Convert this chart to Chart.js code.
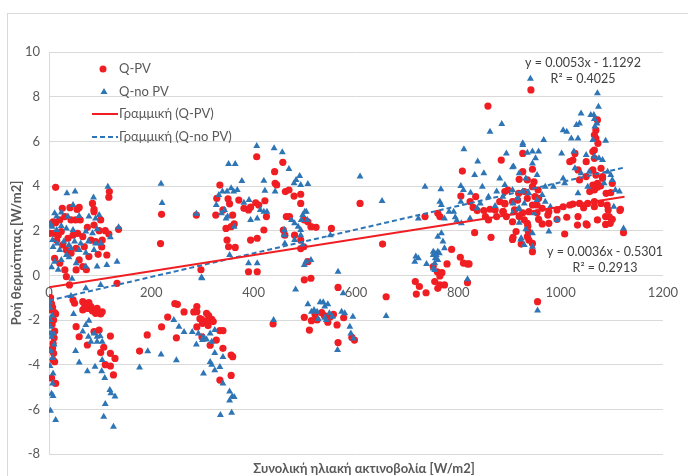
<!DOCTYPE html>
<html>
<head>
<meta charset="utf-8">
<script src="https://cdn.jsdelivr.net/npm/chart.js@4.4.1/dist/chart.umd.min.js"></script>
<style>
  html, body { margin: 0; padding: 0; background: #fff; }
  #wrap { position: relative; width: 688px; height: 476px; overflow: hidden; }
  #frame { position: absolute; left: 7px; top: 13px; width: 700px; height: 500px;
           border-left: 1px solid #d9d9d9; border-top: 1px solid #d9d9d9; }
  canvas { position: absolute; left: 0; top: 0; }
</style>
</head>
<body>
<div id="wrap">
  <div id="frame"></div>
  <canvas id="chart" width="688" height="476"></canvas>
</div>
<script>
// axis ticks
const xTicks = [0, 200, 400, 600, 800, 1000, 1200];
const yTicks = [-8, -6, -4, -2, 0, 2, 4, 6, 8, 10];

// Q-PV points [radiation, heat flux]
const qpv = [
  [13,3.94],[26,3.0],[41,3.03],[59,3.04],[85,3.22],[88,2.85],[117,3.5],[118,3.75],
  [8,2.4],[13,2.36],[21,2.48],[31,2.63],[43,2.48],[52,2.48],[61,2.48],[75,2.15],[88,2.25],[101,2.48],[110,2.0],[136,2.06],
  [2,1.88],[10,1.88],[18,1.8],[24,1.96],[37,1.66],[47,1.8],[56,1.88],[66,1.73],[82,1.58],[91,1.51],[104,1.58],[113,0.91],
  [27,1.36],[34,1.13],[43,0.99],[53,1.21],[69,1.28],[59,0.69],[78,0.84],
  [31,0.24],[53,0.24],[66,0.39],[34,-0.06],[40,-0.43],[133,-0.36],[47,-1.1],[11,0.76],[21,0.54],
  [5,2.3],[15,1.57],[96,0.94],[73,0.25],[103,1.27],[98,2.0],[117,1.85],[88,2.95],[55,2.95],
  [2,-1.13],[5,-1.28],[7,-1.43],[4,-1.55],[11,-1.67],[13,-1.73],[9,-2.0],[11,-2.5],[6,-2.2],[8,-3.05],
  [7,-3.27],[9,-3.49],[8,-3.79],[11,-3.87],[5,-4.6],[13,-4.84],[3,-1.0],[10,-2.8],
  [50,-1.25],[53,-2.3],[59,-2.75],[75,-3.12],[66,-1.18],[72,-1.25],[78,-1.22],[69,-1.48],[77,-1.48],[82,-1.4],
  [66,-1.55],[94,-1.48],[91,-1.7],[101,-1.73],[104,-1.63],[88,-2.52],[98,-2.45],[120,-2.72],[107,-3.22],[101,-3.46],
  [120,-3.49],[129,-3.72],[110,-4.0],[120,-4.06],[126,-4.46],[70,-1.3],[85,-1.6],[177,-3.39],[192,-2.67],
  [220,-2.31],[232,-1.87],[246,-1.27],[251,-1.3],[249,-2.8],[264,-1.64],[283,-1.64],[289,-1.63],[298,-1.97],[308,-1.7],
  [318,-1.97],[321,-2.07],[300,-2.15],[295,-1.94],[289,-1.4],[334,-2.48],[340,-2.48],[289,-2.31],[299,-2.76],[327,-2.9],
  [340,-3.27],[356,-3.57],[359,-3.64],[356,-4.48],[334,-4.69],[315,-2.0],[312,-1.8],[305,-2.05],[311,-2.25],[315,-3.13],
  [218,1.42],[220,2.73],[297,0.25],[288,2.7],
  [334,4.04],[326,2.7],[340,2.93],[350,3.43],[353,3.2],[359,2.7],[356,2.18],[362,2.3],[346,2.1],[348,1.58],
  [351,1.28],[364,1.25],[371,3.37],[381,3.0],[390,2.93],[394,3.05],[404,3.25],[410,3.15],[422,3.34],[425,2.63],
  [420,2.03],[407,1.66],[394,1.58],[390,0.16],[407,0.16],[406,5.31],[441,4.64],[442,4.12],[445,4.05],[457,5.06],
  [462,3.75],[469,3.82],[479,3.55],[492,3.63],[492,3.22],[464,2.63],[470,2.63],[499,2.48],[506,2.4],[512,2.18],
  [522,2.15],[552,2.1],[458,2.03],[461,1.8],[480,1.8],[492,1.58],[498,1.28],[492,1.2],[506,0.61],[512,-0.13],
  [499,-0.2],[608,3.22],[652,1.4],[659,-0.96],[565,-0.54],[328,3.45],
  [499,-1.88],[509,-2.45],[513,-2.03],[524,-2.0],[533,-1.67],[538,-1.8],[544,-1.95],[550,-1.85],[556,-1.75],[563,-2.22],
  [565,-3.01],[576,-1.9],[592,-2.78],[597,-2.9],[438,-2.18],[520,-1.75],[545,-2.1],
  [716,-0.28],[724,-0.5],[718,-0.84],[737,-0.78],[751,0.39],[759,0.16],[764,-0.03],[754,-0.28],[764,-0.43],[760,-0.58],
  [773,-0.43],[778,0.51],[787,1.16],[804,0.81],[810,0.55],[818,0.51],[821,0.51],[818,-0.33],[768,0.12],[764,2.63],
  [760,2.78],[735,2.63],[808,4.67],[805,3.55],[823,3.3],[834,3.52],[829,3.04],[837,2.9],[850,2.9],[862,2.96],
  [864,1.7],[853,2.63],[859,2.48],[872,2.93],[875,2.63],[888,2.85],[891,3.19],[891,3.75],[832,1.91],[907,1.7],
  [923,1.4],[945,1.06],[955,-1.18],[936,2.21],[858,7.58],
  [942,8.3],[884,5.16],[926,5.46],[926,4.64],[945,4.75],[919,4.3],[935,4.27],[948,4.19],[897,3.82],[918,3.67],
  [929,3.75],[945,3.97],[956,3.82],[950,3.52],[881,3.3],[891,3.22],[906,3.3],[916,3.37],[935,3.45],[957,3.45],
  [945,3.15],[954,3.15],[964,3.0],[887,2.85],[910,2.93],[926,2.8],[938,2.85],[954,2.8],[977,2.85],[993,2.93],
  [1005,3.07],[1018,3.15],[1024,3.19],[1037,3.22],[1053,3.22],[1066,3.3],[1079,3.22],[1091,3.15],[1045,3.03],[894,2.63],
  [906,2.4],[919,2.63],[929,2.48],[935,2.33],[957,2.51],[977,2.33],[993,2.51],[1012,2.6],[1034,2.63],[1050,2.3],
  [1072,2.48],[1088,2.63],[1101,2.51],[1117,2.96],[913,1.96],[937,1.96],[935,1.73],[938,1.58],[964,2.3],[975,2.7],
  [1008,1.85],[1033,2.25],[1052,2.25],[1088,2.28],[906,1.61],[945,1.43],[1123,1.91],
  [1028,5.46],[1024,5.16],[1050,5.09],[1066,5.61],[1066,5.24],[1063,4.72],[1069,4.49],[1072,6.96],[1069,6.5],[1066,6.28],
  [1050,4.42],[1082,4.42],[1072,4.12],[1037,4.27],[1018,5.09],[1034,4.72],[1066,3.82],[1072,3.94],[1101,4.12],
  [1069,6.13],[1073,5.91],[1063,5.54],[1079,4.79],[1082,4.34],[1063,4.04],[1078,4.0],[1057,3.75],[1089,3.67],[1098,3.7],
  [1066,3.07],[1093,2.93],[1095,2.63],[1097,2.33],[1116,2.9]
];

// Q-no PV points
const qnopv = [
  [35,3.67],[51,3.75],[87,3.49],[115,3.97],[47,3.15],[11,2.78],[15,2.63],[24,2.81],[37,2.63],[59,2.66],
  [78,2.63],[91,2.55],[98,2.7],[6,2.18],[15,2.03],[24,2.21],[34,2.1],[47,2.03],[72,1.96],[85,1.88],
  [94,2.06],[7,1.58],[16,1.43],[29,1.51],[39,1.36],[50,1.51],[62,1.43],[77,1.51],[91,1.43],[101,1.43],
  [21,1.13],[34,0.91],[43,1.21],[59,1.13],[72,1.01],[88,1.13],[5,0.36],[11,0.61],[24,0.69],[39,0.81],
  [53,0.54],[72,0.39],[94,0.39],[113,0.46],[133,0.61],[72,-0.58],[101,-0.43],[43,-0.93],
  [136,2.15],[2,2.3],[8,1.27],[18,0.25],[45,-0.15],[120,1.7],
  [1,-1.2],[2,-1.45],[2,-2.0],[3,-2.3],[2,-2.6],[5,-2.75],[9,-2.6],[4,-3.4],[7,-3.7],[2,-4.06],
  [8,-4.4],[7,-4.84],[5,-5.3],[8,-5.4],[3,-6.06],[13,-6.48],[6,-1.8],[10,-3.1],
  [48,-1.73],[52,-3.39],[59,-3.9],[75,-4.3],[78,-2.03],[72,-2.22],[66,-2.52],[77,-2.75],[88,-2.6],[94,-2.75],
  [100,-2.72],[82,-2.97],[94,-2.97],[104,-2.97],[90,-4.09],[103,-4.3],[104,-3.79],[109,-4.6],[119,-5.13],[121,-5.28],
  [129,-5.43],[110,-5.76],[107,-6.33],[126,-6.78],[177,-4.13],[193,-3.4],
  [219,-3.54],[249,-3.8],[244,-2.0],[254,-2.3],[264,-2.54],[280,-2.54],[288,-3.1],[292,-2.6],[302,-2.76],[308,-2.87],
  [318,-2.97],[324,-2.45],[300,-2.9],[315,-2.6],[324,-3.48],[315,-3.88],[340,-3.66],[318,-4.0],[302,-4.39],[334,-4.1],
  [324,-4.25],[340,-4.84],[353,-5.2],[358,-5.43],[353,-5.6],[335,-6.25],[357,-6.15],[362,-5.45],
  [219,4.1],[221,3.24],[288,2.76],[298,-0.1],
  [406,5.79],[440,5.69],[456,5.51],[469,4.76],[351,4.99],[364,4.99],[377,4.22],[420,4.24],[422,3.79],[442,3.75],
  [479,4.12],[483,4.27],[490,4.45],[492,4.04],[506,4.09],[327,3.15],[332,3.6],[339,3.75],[348,3.75],[356,3.9],
  [361,3.75],[368,3.82],[337,2.78],[343,2.93],[346,2.55],[349,2.63],[362,2.18],[381,3.25],[391,3.37],[394,2.48],
  [407,2.55],[413,2.93],[420,2.85],[426,2.85],[460,2.03],[460,1.8],[474,2.48],[480,2.33],[487,2.18],[492,2.03],
  [493,2.48],[496,2.7],[500,2.85],[503,2.85],[505,2.48],[461,1.43],[480,1.58],[492,1.8],[496,1.36],[502,0.61],
  [512,0.69],[499,0.46],[353,0.91],[390,0.54],[407,0.54],[299,-0.13],[550,1.8],[608,4.42],[651,3.33],[565,0.16],
  [575,-0.8],[482,-0.63],
  [439,-2.0],[506,-1.3],[513,-1.63],[518,-1.55],[524,-1.63],[530,-1.2],[536,-1.2],[539,-1.4],[545,-1.3],[539,-1.9],
  [542,-2.0],[548,-1.7],[554,-1.85],[572,-1.63],[578,-1.7],[594,-1.85],[588,-2.3],[590,-2.6],[595,-2.83],[564,-3.34],
  [659,-1.82],[526,-1.95],
  [735,3.97],[766,3.85],[764,3.3],[805,4.0],[811,5.64],[810,3.82],[824,3.7],[805,3.3],[806,2.33],[823,2.55],
  [791,2.85],[794,2.6],[797,2.45],[782,2.85],[773,2.55],[767,3.15],[722,2.55],[717,0.84],[722,0.76],[715,0.61],
  [738,0.51],[751,1.06],[754,0.99],[757,0.91],[760,1.06],[763,0.99],[751,0.91],[755,0.76],[760,0.69],[754,0.54],
  [751,0.31],[754,0.24],[760,1.73],[767,1.88],[773,1.21],[770,1.51],[818,-0.18],[838,5.1],[832,4.49],[850,4.57],
  [847,3.97],[859,3.52],[875,3.75],[872,3.1],[843,3.22],[837,3.0],[862,6.43],[885,6.78],
  [1072,8.15],[1040,7.25],[1031,6.73],[1059,7.18],[1066,7.0],[1037,6.8],[1067,6.66],[1005,6.5],[1012,6.43],[1021,6.13],
  [1034,6.13],[1063,6.06],[1088,6.03],[1026,5.54],[1050,5.39],[1066,5.31],[1075,5.24],[1082,5.16],[926,5.91],[967,6.06],
  [935,5.49],[945,5.54],[957,5.54],[951,5.24],[945,5.01],[906,4.84],[919,4.57],[932,4.34],[954,4.49],[1002,5.46],
  [1028,4.79],[1040,4.57],[1056,4.64],[1098,4.49],[1101,4.27],[1085,4.12],[881,4.34],[906,3.82],[926,3.75],[938,3.67],
  [970,3.97],[1005,4.34],[1008,4.12],[887,3.52],[916,3.45],[929,3.22],[954,3.37],[964,3.6],[970,3.3],[986,3.97],
  [1034,3.67],[1053,3.97],[1107,3.82],[919,3.0],[906,2.78],[948,2.78],[980,3.07],[1104,3.07],[919,2.36],[932,2.06],
  [945,1.88],[977,1.96],[993,2.48],[1115,3.75],[1123,2.1],[922,1.61],[945,1.28],[926,5.84],[894,5.46],[908,4.87],
  [891,4.04],[907,3.22],[917,2.96],[923,1.66],[929,1.36],[955,-1.58],[941,8.8],[1074,7.55],[1065,7.18],[1071,6.8],
  [1092,4.64]
];

// linear trend lines (end points)
const trendPvX = [0, 1125];
const trendPvY = [-0.53, 3.52];
const trendNoPvX = [0, 1125];
const trendNoPvY = [-1.13, 4.83];

const RED = '#f01e23';
const BLUE = '#2e75b6';
const TEXT = '#595959';
const FONT = 'Lato, "Open Sans", sans-serif';

const toPts = arr => arr.map(p => ({ x: p[0], y: p[1] }));
const zipPts = (xs, ys) => xs.map((x, i) => ({ x: x, y: ys[i] }));

// legend + trend equations + x title drawn inside the plot like Excel does
const extras = {
  id: 'extras',
  afterDraw(chart) {
    const ctx = chart.ctx;
    ctx.save();
    ctx.textBaseline = 'middle';
    ctx.font = '13px ' + FONT;

    // legend
    ctx.fillStyle = RED;
    ctx.beginPath(); ctx.arc(103, 69, 3.5, 0, Math.PI * 2); ctx.fill();
    ctx.fillStyle = BLUE;
    ctx.beginPath(); ctx.moveTo(104, 88); ctx.lineTo(107.5, 94); ctx.lineTo(100.5, 94); ctx.closePath(); ctx.fill();
    ctx.lineWidth = 2;
    ctx.strokeStyle = RED;
    ctx.beginPath(); ctx.moveTo(92, 114); ctx.lineTo(118, 114); ctx.stroke();
    ctx.strokeStyle = BLUE;
    ctx.setLineDash([5, 3]);
    ctx.beginPath(); ctx.moveTo(92, 137); ctx.lineTo(118, 137); ctx.stroke();
    ctx.setLineDash([]);
    ctx.fillStyle = TEXT;
    ctx.textAlign = 'left';
    ctx.fillText('Q-PV', 119, 69);
    ctx.fillText('Q-no PV', 119, 92);
    ctx.fillText('Γραμμική (Q-PV)', 119, 114);
    ctx.fillText('Γραμμική (Q-no PV)', 119, 137);

    // equations
    ctx.font = '12.5px ' + FONT;
    ctx.fillStyle = '#404040';
    ctx.textAlign = 'center';
    ctx.fillText('y = 0.0053x - 1.1292', 583, 63);
    ctx.fillText('R² = 0.4025', 583, 79);
    ctx.fillText('y = 0.0036x - 0.5301', 605, 252);
    ctx.fillText('R² = 0.2913', 605, 268);

    // x axis title
    ctx.fillStyle = TEXT;
    ctx.font = 'bold 13px ' + FONT;
    ctx.fillText('Συνολική ηλιακή ακτινοβολία [W/m2]', 364, 469);
    ctx.restore();
  }
};

new Chart(document.getElementById('chart'), {
  type: 'scatter',
  data: {
    datasets: [
      {
        label: 'Γραμμική (Q-PV)',
        data: zipPts(trendPvX, trendPvY),
        showLine: true, borderColor: RED, borderWidth: 2, pointRadius: 0, order: 0
      },
      {
        label: 'Γραμμική (Q-no PV)',
        data: zipPts(trendNoPvX, trendNoPvY),
        showLine: true, borderColor: BLUE, borderWidth: 2, borderDash: [5, 3], pointRadius: 0, order: 0
      },
      {
        label: 'Q-no PV',
        data: toPts(qnopv),
        pointStyle: 'triangle', pointRadius: 4, borderWidth: 0,
        backgroundColor: BLUE, borderColor: BLUE, order: 1
      },
      {
        label: 'Q-PV',
        data: toPts(qpv),
        pointStyle: 'circle', pointRadius: 3.6, borderWidth: 0,
        backgroundColor: RED, borderColor: RED, order: 2
      }
    ]
  },
  options: {
    responsive: false,
    animation: false,
    layout: { padding: { left: 0, right: 11, top: 52, bottom: 22 } },
    plugins: {
      legend: { display: false },
      tooltip: { enabled: false }
    },
    scales: {
      x: {
        type: 'linear',
        position: { y: 0 },
        min: 0, max: 1200,
        afterBuildTicks: s => { s.ticks = xTicks.map(v => ({ value: v })); },
        afterFit: s => { s.height = 0; },
        grid: { display: false, drawTicks: false },
        border: { display: true, color: '#d9d9d9', width: 1 },
        ticks: {
          color: TEXT, font: { family: FONT, size: 13 }, padding: 10, maxRotation: 0,
          callback: v => String(v)
        }
      },
      y: {
        min: -8, max: 10,
        afterBuildTicks: s => { s.ticks = yTicks.map(v => ({ value: v })); },
        afterFit: s => { s.width = 49; },
        grid: { color: '#d9d9d9', drawTicks: false },
        border: { display: true, color: '#d9d9d9' },
        ticks: { color: TEXT, font: { family: FONT, size: 13 }, padding: 9, callback: v => String(v) },
        title: {
          display: true, text: 'Ροή θερμότητας [W/m2]', color: TEXT,
          font: { family: FONT, size: 13, weight: 'bold' }, padding: { top: 9, bottom: 0 }
        }
      }
    }
  },
  plugins: [extras]
});
</script>
</body>
</html>
